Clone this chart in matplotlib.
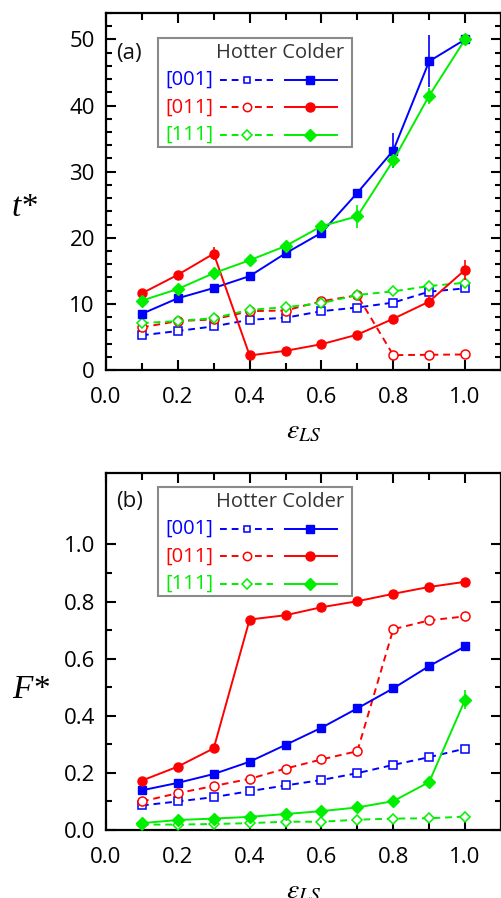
import numpy as np
import matplotlib
matplotlib.use('Agg')
import matplotlib.pyplot as plt
from matplotlib.ticker import MultipleLocator, FixedLocator
from matplotlib.patches import Rectangle

plt.rcParams['font.family'] = ['Open Sans', 'DejaVu Sans']
plt.rcParams['mathtext.fontset'] = 'stix'

# epsilon_LS values
eps = [0.1, 0.2, 0.3, 0.4, 0.5, 0.6, 0.7, 0.8, 0.9, 1.0]

# (a) t*  -- hotter (open, dashed) / colder (filled, solid)
t_001_hot = [5.25, 5.9, 6.6, 7.6, 7.9, 8.9, 9.45, 10.2, 11.85, 12.35]
t_011_hot = [6.45, 7.4, 7.65, 8.9, 9.0, 10.4, 11.3, 2.25, 2.3, 2.35]
t_111_hot = [7.1, 7.4, 7.85, 9.1, 9.5, 10.1, 11.35, 11.9, 12.7, 13.2]
t_001_cold = [8.5, 10.85, 12.4, 14.2, 17.65, 20.75, 26.8, 33.2, 46.7, 50.0]
t_011_cold = [11.6, 14.4, 17.6, 2.2, 2.9, 3.9, 5.35, 7.75, 10.35, 15.15]
t_111_cold = [10.5, 12.25, 14.65, 16.6, 18.75, 21.75, 23.25, 31.7, 41.5, 50.0]
t_001_cold_err = [0.3, 0.3, 0.3, 0.3, 0.5, 0.6, 0.6, 2.6, 3.9, 0.3]
t_011_cold_err = [0.3, 0.3, 1.0, 0.3, 0.3, 0.6, 0.3, 0.3, 1.0, 1.5]
t_111_cold_err = [0.3, 0.3, 0.5, 0.3, 0.3, 0.5, 1.75, 1.2, 1.2, 0.3]

# (b) F*
f_001_hot = [0.086, 0.100, 0.115, 0.136, 0.156, 0.175, 0.199, 0.228, 0.255, 0.285]
f_011_hot = [0.100, 0.129, 0.154, 0.179, 0.215, 0.247, 0.276, 0.703, 0.734, 0.748]
f_111_hot = [0.019, 0.019, 0.021, 0.024, 0.029, 0.029, 0.036, 0.040, 0.041, 0.047]
f_001_cold = [0.139, 0.165, 0.196, 0.239, 0.298, 0.358, 0.426, 0.496, 0.574, 0.643]
f_011_cold = [0.173, 0.222, 0.286, 0.737, 0.752, 0.780, 0.801, 0.827, 0.851, 0.869]
f_111_cold = [0.024, 0.035, 0.040, 0.046, 0.056, 0.066, 0.079, 0.101, 0.168, 0.456]
f_111_cold_err = [0.003, 0.003, 0.003, 0.003, 0.003, 0.003, 0.003, 0.005, 0.008, 0.033]

f_yticks = [0.0, 0.2, 0.4, 0.6, 0.8, 1.0]
f_yminor = [0.1, 0.3, 0.5, 0.7, 0.9]

labels = ['[001]', '[011]', '[111]']
colors = ['#0000ff', '#ff0000', '#00ee00']
open_markers = ['s', 'o', 'D']
filled_markers = ['s', 'o', 'D']
msize = [6, 6.5, 6]
dsize = [5.5, 6.5, 5.5]
FS = 16      # tick labels
KFS = 14.5   # key texts

fig = plt.figure(figsize=(5.02, 8.98), dpi=100)
W, H = 502.0, 898.0
ax1 = fig.add_axes([106 / W, 1 - 370 / H, 395 / W, 357 / H])
ax2 = fig.add_axes([106 / W, 1 - 830 / H, 395 / W, 357 / H])


def plot_panel(ax, hot, cold, cold_err):
    for i in range(3):
        ax.plot(eps, hot[i], ls=(0, (3.5, 2.5)), lw=1.4, color=colors[i],
                marker=open_markers[i], ms=dsize[i], mfc='white', mec=colors[i],
                mew=1.1, zorder=3)
        ax.errorbar(eps, cold[i], yerr=cold_err[i], ls='-', lw=1.4, color=colors[i],
                    marker=filled_markers[i], ms=msize[i], mfc=colors[i], mec=colors[i],
                    elinewidth=1.2, capsize=0, zorder=4)


def style_axes(ax, ylim):
    ax.set_xlim(0, 1.1)
    ax.set_ylim(*ylim)
    ax.xaxis.set_major_locator(MultipleLocator(0.2))
    ax.xaxis.set_minor_locator(MultipleLocator(0.1))
    ax.tick_params(which='both', direction='in', top=True, right=True, width=1.5)
    ax.tick_params(axis='x', which='major', length=7)
    ax.tick_params(axis='x', which='minor', length=5)
    ax.tick_params(axis='y', which='major', length=7)
    ax.tick_params(axis='y', which='minor', length=4)
    ax.tick_params(axis='x', which='major', labelsize=FS, pad=12)
    ax.tick_params(axis='y', which='major', labelsize=FS, pad=8)
    for s in ax.spines.values():
        s.set_linewidth(1.6)
    ax.set_xlabel(r'$\varepsilon_{LS}$', fontsize=20, labelpad=7)


def draw_key(ax, box_top_px, ax_top_px, tag):
    # key box drawn in pixel offsets from the axes corner
    x0, y0 = 106.0, ax_top_px
    def ax_xy(px, py):
        return ((px - x0) / 395.0, 1 - (py - y0) / 357.0)
    bx, by = ax_xy(158, box_top_px + 109)
    bx2, by2 = ax_xy(352, box_top_px)
    ax.add_patch(Rectangle((bx, by), bx2 - bx, by2 - by, transform=ax.transAxes,
                           fill=True, fc='white', ec='#8a8a8a', lw=1.5, zorder=6))
    hx, hy = ax_xy(344, box_top_px + 15)
    ax.text(hx, hy, 'Hotter Colder', transform=ax.transAxes, ha='right', va='center',
            fontsize=KFS, color='#333333', zorder=7)
    tx, ty = ax_xy(116, box_top_px + 15)
    ax.text(tx, ty, tag, transform=ax.transAxes, ha='left', va='center',
            fontsize=FS, color='#111111', zorder=7)
    for i in range(3):
        ry = box_top_px + 42 + i * 27.3
        lx, ly = ax_xy(165, ry)
        ax.text(lx, ly, labels[i], transform=ax.transAxes, ha='left', va='center',
                fontsize=KFS, color=colors[i], zorder=7)
        d0, _ = ax_xy(220, ry)
        d1, _ = ax_xy(273, ry)
        dm, _ = ax_xy(247, ry)
        ax.plot([d0, d1], [ly, ly], transform=ax.transAxes, ls=(0, (3.5, 2.5)), lw=1.4,
                color=colors[i], zorder=7, clip_on=False)
        ax.plot([dm], [ly], transform=ax.transAxes, marker=open_markers[i], ms=dsize[i] - 0.5,
                mfc='white', mec=colors[i], mew=1.1, ls='none', zorder=8, clip_on=False)
        s0, _ = ax_xy(285, ry)
        s1, _ = ax_xy(337, ry)
        sm, _ = ax_xy(310, ry)
        ax.plot([s0, s1], [ly, ly], transform=ax.transAxes, ls='-', lw=1.4,
                color=colors[i], zorder=7, clip_on=False)
        ax.plot([sm], [ly], transform=ax.transAxes, marker=filled_markers[i], ms=msize[i],
                mfc=colors[i], mec=colors[i], ls='none', zorder=8, clip_on=False)


plot_panel(ax1, [t_001_hot, t_011_hot, t_111_hot],
           [t_001_cold, t_011_cold, t_111_cold],
           [t_001_cold_err, t_011_cold_err, t_111_cold_err])
style_axes(ax1, (0, 54))
ax1.yaxis.set_major_locator(MultipleLocator(10))
ax1.yaxis.set_minor_locator(MultipleLocator(2))
draw_key(ax1, 38, 13, '(a)')
ax1.text(-0.205, 0.454, 't*', transform=ax1.transAxes, ha='center', va='center',
         fontsize=24, fontstyle='italic', family='Liberation Serif')

plot_panel(ax2, [f_001_hot, f_011_hot, f_111_hot],
           [f_001_cold, f_011_cold, f_111_cold],
           [[0.003] * 10, [0.003] * 10, f_111_cold_err])
style_axes(ax2, (0, 1.25))
ax2.yaxis.set_major_locator(FixedLocator(f_yticks))
ax2.yaxis.set_minor_locator(FixedLocator(f_yminor))
draw_key(ax2, 487, 473, '(b)')
ax2.text(-0.19, 0.392, 'F*', transform=ax2.transAxes, ha='center', va='center',
         fontsize=24, fontstyle='italic', family='Liberation Serif')

fig.savefig('out.png', dpi=100)
